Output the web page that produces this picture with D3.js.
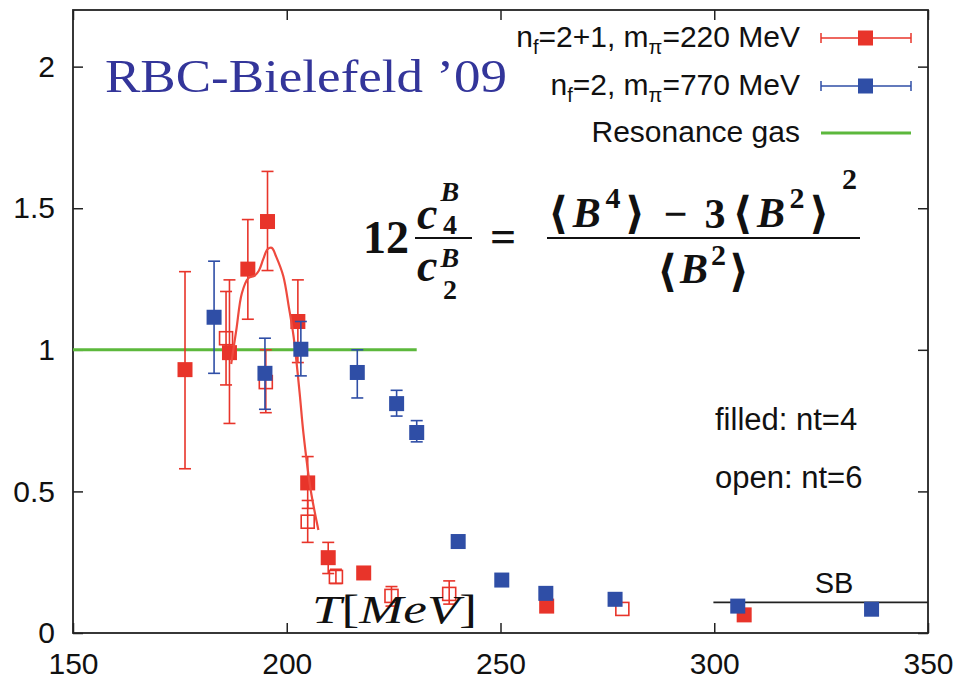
<!DOCTYPE html>
<html lang="en">
<head>
<meta charset="UTF-8">
<title>RBC-Bielefeld '09 kurtosis ratio</title>
<script src="https://d3js.org/d3.v7.min.js"></script>
<style>
    body { margin: 0; background: #fff; }
    svg { display: block; }
</style>
</head>
<body>
<svg width="961" height="681"></svg>
<script>
    // nf=2+1, m_pi=220 MeV, nt=4 (filled red)
    const redT   = [176.2, 186.6, 190.9, 195.5, 202.6, 204.9, 209.7, 218.0, 260.8, 307.0];
    const redVal = [0.93, 0.99, 1.285, 1.453, 1.10, 0.53, 0.266, 0.212, 0.095, 0.064];
    const redLo  = [0.58, 0.74, 1.108, 1.28, 0.955, 0.44, 0.21, 0.20, 0.09, 0.06];
    const redHi  = [1.276, 1.247, 1.46, 1.63, 1.247, 0.623, 0.32, 0.225, 0.10, 0.068];

    // nf=2+1, nt=6 (open red)
    const openT   = [185.8, 195.1, 204.9, 211.5, 224.5, 238.0, 278.5];
    const openVal = [1.041, 0.886, 0.393, 0.198, 0.131, 0.138, 0.085];
    const openLo  = [0.876, 0.778, 0.32, 0.175, 0.095, 0.102, 0.08];
    const openHi  = [1.206, 1.0, 0.468, 0.225, 0.164, 0.184, 0.09];

    // nf=2, m_pi=770 MeV, nt=4 (filled blue)
    const blueT   = [183.0, 194.9, 203.3, 216.5, 225.7, 230.4, 240.1, 250.3, 260.6, 276.8, 305.5, 336.8];
    const blueVal = [1.115, 0.917, 1.002, 0.92, 0.81, 0.708, 0.323, 0.187, 0.14, 0.119, 0.095, 0.084];
    const blueLo  = [0.917, 0.79, 0.908, 0.83, 0.766, 0.675, 0.323, 0.187, 0.14, 0.119, 0.095, 0.084];
    const blueHi  = [1.313, 1.041, 1.10, 1.0, 0.857, 0.75, 0.323, 0.187, 0.14, 0.119, 0.095, 0.084];

    // fit curve through the nt=4 red points
    const fitT   = [187.0, 188.2, 189.5, 191.0, 192.5, 193.5, 194.5, 195.5, 196.5, 197.5, 199.2, 200.5, 201.6, 203.0, 203.9, 205.6, 207.4];
    const fitVal = [0.95, 1.07, 1.2, 1.253, 1.262, 1.28, 1.32, 1.355, 1.36, 1.33, 1.26, 1.15, 1.047, 0.85, 0.706, 0.505, 0.364];

    const resGasT = [150, 230.4];
    const resGasVal = 1.0;
    const sbT = [299.8, 350];
    const sbVal = 0.108;

    const xTicks = [150, 200, 250, 300, 350];
    const yTicks = [0, 0.5, 1, 1.5, 2];

    const red = "#e8342a", blue = "#2f4ea6", green = "#5cb83c";
    const SANS = "Liberation Sans, Arial, sans-serif";
    const SERIF = "Liberation Serif, Times New Roman, serif";

    const svg = d3.select("svg");
    const x = d3.scaleLinear().domain([150, 350]).range([73, 928]);
    const y = d3.scaleLinear().domain([0, 2.2]).range([633, 10]);

    const pts = (T, V, L, H) => T.map((t, i) => ({ t: t, v: V[i], lo: L[i], hi: H[i] }));

    // axes with inward ticks
    const fmt = d => d3.format("")(d);
    svg.append("g").attr("transform", "translate(0,633)")
        .call(d3.axisBottom(x).tickValues(xTicks).tickSize(-10).tickPadding(20).tickFormat(fmt))
        .call(g => g.select(".domain").remove())
        .call(g => g.selectAll("text").attr("font-size", 30).style("font-family", SANS).attr("fill", "#111"))
        .call(g => g.selectAll("line").attr("stroke", "#222").attr("stroke-width", 1.5));
    svg.append("g").attr("transform", "translate(0,10)")
        .call(d3.axisTop(x).tickValues(xTicks).tickSize(-10).tickFormat(""))
        .call(g => g.select(".domain").remove())
        .call(g => g.selectAll("line").attr("stroke", "#222").attr("stroke-width", 1.5));
    svg.append("g").attr("transform", "translate(73,0)")
        .call(d3.axisLeft(y).tickValues(yTicks).tickSize(-10).tickPadding(18).tickFormat(fmt))
        .call(g => g.select(".domain").remove())
        .call(g => g.selectAll("text").attr("font-size", 30).style("font-family", SANS).attr("fill", "#111"))
        .call(g => g.selectAll("line").attr("stroke", "#222").attr("stroke-width", 1.5));
    svg.append("g").attr("transform", "translate(928,0)")
        .call(d3.axisRight(y).tickValues(yTicks).tickSize(-10).tickFormat(""))
        .call(g => g.select(".domain").remove())
        .call(g => g.selectAll("line").attr("stroke", "#222").attr("stroke-width", 1.5));

    svg.append("rect")
        .attr("x", x(150)).attr("y", y(2.2))
        .attr("width", x(350) - x(150)).attr("height", y(0) - y(2.2))
        .attr("fill", "none").attr("stroke", "#222").attr("stroke-width", 1.8);

    // resonance gas line
    svg.append("line")
        .attr("x1", x(resGasT[0])).attr("x2", x(resGasT[1]))
        .attr("y1", y(resGasVal)).attr("y2", y(resGasVal))
        .attr("stroke", green).attr("stroke-width", 3);

    // SB limit
    svg.append("line")
        .attr("x1", x(sbT[0])).attr("x2", x(sbT[1]))
        .attr("y1", y(sbVal)).attr("y2", y(sbVal))
        .attr("stroke", "#222").attr("stroke-width", 1.6);
    svg.append("text").attr("x", 834).attr("y", 593).style("font-family", SANS)
        .attr("text-anchor", "middle").attr("font-size", 29).attr("fill", "#111").text("SB");

    function errorBars(data, color) {
        const g = svg.append("g").attr("stroke", color).attr("stroke-width", 1.6);
        data.filter(d => y(d.lo) - y(d.hi) > 4).forEach(d => {
            g.append("line").attr("x1", x(d.t)).attr("x2", x(d.t)).attr("y1", y(d.lo)).attr("y2", y(d.hi));
            g.append("line").attr("x1", x(d.t) - 6).attr("x2", x(d.t) + 6).attr("y1", y(d.lo)).attr("y2", y(d.lo));
            g.append("line").attr("x1", x(d.t) - 6).attr("x2", x(d.t) + 6).attr("y1", y(d.hi)).attr("y2", y(d.hi));
        });
    }

    const redPts = pts(redT, redVal, redLo, redHi);
    const openPts = pts(openT, openVal, openLo, openHi);
    const bluePts = pts(blueT, blueVal, blueLo, blueHi);

    // open red (nt=6)
    errorBars(openPts, red);
    svg.append("g").selectAll("rect").data(openPts).enter().append("rect")
        .attr("x", d => x(d.t) - 6.5).attr("y", d => y(d.v) - 6.5)
        .attr("width", 13).attr("height", 13)
        .attr("fill", "none").attr("stroke", red).attr("stroke-width", 1.6);

    // filled red (nt=4)
    errorBars(redPts, red);
    svg.append("g").selectAll("rect").data(redPts).enter().append("rect")
        .attr("x", d => x(d.t) - 7.5).attr("y", d => y(d.v) - 7.5)
        .attr("width", 15).attr("height", 15).attr("fill", red);

    // fit curve
    svg.append("path")
        .datum(fitT.map((t, i) => [t, fitVal[i]]))
        .attr("d", d3.line().x(d => x(d[0])).y(d => y(d[1])).curve(d3.curveCatmullRom))
        .attr("fill", "none").attr("stroke", "#ee4a3e").attr("stroke-width", 2.2);

    // blue nf=2
    errorBars(bluePts, blue);
    svg.append("g").selectAll("rect").data(bluePts).enter().append("rect")
        .attr("x", d => x(d.t) - 7.5).attr("y", d => y(d.v) - 7.5)
        .attr("width", 15).attr("height", 15).attr("fill", blue);

    // title
    svg.append("text").style("font-family", SERIF)
        .attr("x", 105).attr("y", 92)
        .attr("font-size", 46).attr("fill", "#33359a")
        .attr("textLength", 402).attr("lengthAdjust", "spacingAndGlyphs")
        .text("RBC-Bielefeld \u201909");

    // legend
    const legend = [
        { parts: [["n"], ["f", "sub"], ["=2+1, m"], ["\u03c0", "sub"], ["=220 MeV"]], color: red, kind: "point" },
        { parts: [["n"], ["f", "sub"], ["=2, m"], ["\u03c0", "sub"], ["=770 MeV"]], color: blue, kind: "point" },
        { parts: [["Resonance gas"]], color: green, kind: "line" }
    ];
    const legendY = [38, 86, 133];
    legend.forEach((e, i) => {
        const cy = legendY[i];
        const t = svg.append("text").attr("x", 800).attr("y", cy + 9).style("font-family", SANS)
            .attr("text-anchor", "end").attr("font-size", 30).attr("fill", "#111");
        e.parts.forEach(p => {
            const sp = t.append("tspan").text(p[0]);
            if (p[1] === "sub") sp.attr("font-size", 20).attr("dy", 7);
            else if (t.selectAll("tspan").size() > 1) sp.attr("dy", -7);
        });
        if (e.kind === "point") {
            svg.append("line").attr("x1", 821).attr("x2", 911).attr("y1", cy).attr("y2", cy)
                .attr("stroke", e.color).attr("stroke-width", 1.5);
            [821, 911].forEach(cx => svg.append("line").attr("x1", cx).attr("x2", cx)
                .attr("y1", cy - 5).attr("y2", cy + 5).attr("stroke", e.color).attr("stroke-width", 1.5));
            svg.append("rect").attr("x", 858).attr("y", cy - 7.5).attr("width", 15).attr("height", 15).attr("fill", e.color);
        } else {
            svg.append("line").attr("x1", 821).attr("x2", 911).attr("y1", cy).attr("y2", cy)
                .attr("stroke", e.color).attr("stroke-width", 3);
        }
    });

    // filled / open note
    svg.append("text").attr("x", 715).attr("y", 430).style("font-family", SANS).attr("font-size", 31).attr("fill", "#111").text("filled: nt=4");
    svg.append("text").attr("x", 715).attr("y", 488).style("font-family", SANS).attr("font-size", 31).attr("fill", "#111").text("open: nt=6");

    // formula: 12 c4B/c2B = (<B^4> - 3 <B^2>^2) / <B^2>
    const f = svg.append("g").attr("fill", "#111").attr("font-weight", "bold").style("font-family", SERIF);
    // each piece is one text element made of tspans: [string, size, italic, dx, dy, family]
    function mathText(tx, ty, parts, len) {
        const t = f.append("text").attr("x", tx).attr("y", ty);
        if (len) t.attr("textLength", len).attr("lengthAdjust", "spacing");
        parts.forEach(p => {
            const s = t.append("tspan").text(p[0]).attr("font-size", p[1])
                .attr("font-style", p[2] ? "italic" : "normal");
            if (p[3]) s.attr("dx", p[3]);
            if (p[4]) s.attr("dy", p[4]);
            if (p[5]) s.style("font-family", p[5]);
        });
        return t;
    }
    const BR = "DejaVu Serif, serif";
    mathText(363, 253, [["12", 46]]);
    // small fraction c4^B / c2^B, stacked scripts
    mathText(417, 229, [["c", 46, true], ["B", 28, true, 3, -28]]);
    mathText(443, 234, [["4", 28]]);
    f.append("line").attr("x1", 415).attr("x2", 472).attr("y1", 238).attr("y2", 238).attr("stroke", "#111").attr("stroke-width", 2.2);
    mathText(417, 281, [["c", 46, true], ["B", 28, true, 3, -14]]);
    mathText(443, 299, [["2", 28]]);
    mathText(490, 252, [["=", 46]]);
    f.append("line").attr("x1", 547).attr("x2", 860).attr("y1", 238).attr("y2", 238).attr("stroke", "#111").attr("stroke-width", 2.2);
    mathText(548, 228, [
        ["\u27e8", 44, false, 0, 0, BR], ["B", 42, true, 2, -1], ["4", 30, false, 2, -19],
        ["\u27e9", 44, false, 2, 20, BR], ["\u2212", 42, false, 16], ["3", 42, false, 14],
        ["\u27e8", 44, false, 4, 0, BR], ["B", 42, true, 2, -1], ["2", 30, false, 2, -19],
        ["\u27e9", 44, false, 2, 20, BR], ["2", 30, false, 10, -39]
    ], 309);
    mathText(657, 286, [
        ["\u27e8", 44, false, 0, 0, BR], ["B", 42, true, 2, -3], ["2", 30, false, 2, -18],
        ["\u27e9", 44, false, 2, 21, BR]
    ], 92);

    // axis label T[MeV]
    const xl = svg.append("text").style("font-family", SERIF).attr("x", 312).attr("y", 623)
        .attr("font-size", 40).attr("fill", "#111")
        .attr("textLength", 165).attr("lengthAdjust", "spacingAndGlyphs");
    xl.append("tspan").attr("font-style", "italic").text("T");
    xl.append("tspan").text("[");
    xl.append("tspan").attr("font-style", "italic").text("MeV");
    xl.append("tspan").text("]");
</script>
</body>
</html>
